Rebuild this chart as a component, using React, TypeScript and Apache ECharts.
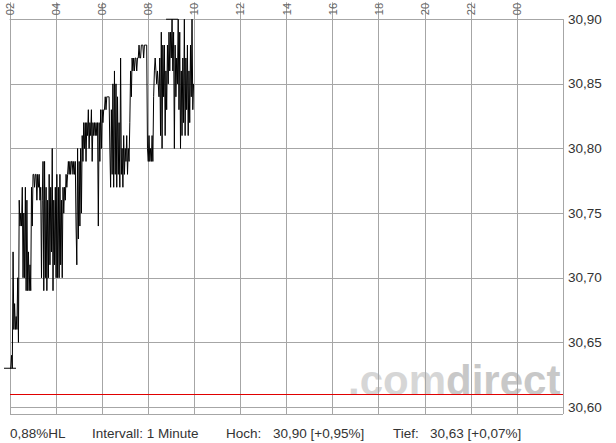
import React, { useEffect, useRef } from "react";
import * as echarts from "echarts";

// Prices, one value every 2 minutes from 02:00
const prices: number[] = [
  30.63, 30.63, 30.64, 30.63, 30.72, 30.66, 30.68, 30.66, 30.67, 30.66,
  30.70, 30.65, 30.76, 30.74, 30.75, 30.74, 30.77, 30.70, 30.75, 30.70,
  30.77, 30.69, 30.76, 30.69, 30.72, 30.69, 30.71, 30.69, 30.77, 30.74,
  30.78, 30.78, 30.77, 30.78, 30.78, 30.76, 30.78, 30.77, 30.78, 30.76,
  30.77, 30.70, 30.76, 30.79, 30.69, 30.79, 30.70, 30.77, 30.69, 30.76,
  30.70, 30.78, 30.71, 30.77, 30.72, 30.80, 30.69, 30.76, 30.71, 30.77,
  30.70, 30.78, 30.70, 30.77, 30.70, 30.78, 30.71, 30.76, 30.70, 30.77,
  30.75, 30.77, 30.76, 30.78, 30.77, 30.78, 30.79, 30.78, 30.79, 30.78,
  30.79, 30.79, 30.78, 30.79, 30.78, 30.79, 30.74, 30.71, 30.80, 30.73,
  30.79, 30.74, 30.80, 30.75, 30.81, 30.79, 30.82, 30.80, 30.82, 30.79,
  30.82, 30.81, 30.83, 30.80, 30.82, 30.81, 30.83, 30.79, 30.82, 30.81,
  30.82, 30.81, 30.82, 30.81, 30.82, 30.74, 30.82, 30.79, 30.83, 30.80,
  30.83, 30.82, 30.83, 30.83, 30.84, 30.83, 30.84, 30.84, 30.84, 30.84,
  30.80, 30.77, 30.83, 30.78, 30.85, 30.77, 30.86, 30.78, 30.85, 30.77,
  30.84, 30.78, 30.82, 30.77, 30.87, 30.78, 30.80, 30.77, 30.81, 30.78,
  30.80, 30.79, 30.81, 30.78, 30.80, 30.79, 30.82, 30.86, 30.84, 30.87,
  30.86, 30.87, 30.86, 30.87, 30.87, 30.86, 30.87, 30.87, 30.88, 30.87,
  30.87, 30.88, 30.88, 30.88, 30.87, 30.88, 30.88, 30.88, 30.88, 30.80,
  30.79, 30.81, 30.79, 30.80, 30.79, 30.81, 30.79, 30.84, 30.86, 30.87,
  30.86, 30.85, 30.86, 30.85, 30.84, 30.87, 30.81, 30.89, 30.80, 30.88,
  30.84, 30.88, 30.81, 30.86, 30.83, 30.88, 30.85, 30.89, 30.86, 30.89,
  30.87, 30.90, 30.86, 30.89, 30.80, 30.88, 30.84, 30.87, 30.85, 30.90,
  30.83, 30.89, 30.80, 30.86, 30.81, 30.87, 30.82, 30.90, 30.81, 30.87,
  30.83, 30.88, 30.81, 30.86, 30.82, 30.88, 30.84, 30.90, 30.83, 30.85,
];
const stepMinutes = 2;
const prevClose = 30.61;
const hourLabels = ["02", "04", "06", "08", "10", "12", "14", "16", "18", "20", "22", "00"];
const intervalText = "Intervall: 1 Minute";
const brandParts = [".com", "direct"];

const FONT = '"Liberation Sans", Arial, Helvetica, sans-serif';
const GRID = "#a6a6a6";

const fmt = (n: number) => n.toFixed(2).replace(".", ",");
const sign = (n: number) => (n >= 0 ? "+" : "-");

export default function App() {
  const ref = useRef<HTMLDivElement>(null);

  useEffect(() => {
    if (!ref.current) return;
    const chart = echarts.init(ref.current, undefined, { renderer: "svg" });

    const data = prices.map((p, i) => [i * stepMinutes, p]);
    const hi = Math.max(...prices);
    const lo = Math.min(...prices);
    const hiIdx = prices.indexOf(hi);
    const loIdx = prices.indexOf(lo);
    const hlPct = ((hi - lo) / lo) * 100;
    const hiPct = (hi / prevClose - 1) * 100;
    const loPct = (lo / prevClose - 1) * 100;

    const footerStyle = { fill: "#333", font: `13.5px ${FONT}`, verticalAlign: "middle" as const };

    chart.setOption({
      animation: false,
      grid: { left: 10, right: 53, top: 17, bottom: 29 },
      xAxis: {
        type: "value",
        position: "top",
        min: 0,
        max: 1440,
        interval: 120,
        axisLine: { show: true, lineStyle: { color: GRID, width: 1 } },
        axisTick: { show: true, length: 17, lineStyle: { color: GRID, width: 1 } },
        axisLabel: {
          rotate: -90,
          margin: 4,
          showMaxLabel: false,
          color: "#666",
          fontSize: 11,
          fontFamily: FONT,
          padding: [9, 0, 0, 0],
          formatter: (v: number) => hourLabels[Math.round(v / 120)] ?? "",
        },
        splitLine: { show: true, lineStyle: { color: GRID, width: 1 } },
      },
      yAxis: {
        type: "value",
        position: "right",
        min: 30.5946,
        max: 30.9,
        splitNumber: 6,
        axisLine: { show: false },
        axisTick: { show: false },
        axisLabel: {
          margin: 5,
          color: "#333",
          fontSize: 13.5,
          fontFamily: FONT,
          showMinLabel: false,
          formatter: (v: number) => fmt(v),
        },
        splitLine: { show: true, lineStyle: { color: GRID, width: 1 } },
      },
      series: [
        {
          type: "line",
          data,
          showSymbol: false,
          symbol: "none",
          silent: true,
          lineStyle: { color: "#000", width: 1 },
          z: 5,
          markLine: {
            silent: true,
            symbol: "none",
            label: { show: false },
            lineStyle: { color: "#e00000", width: 1, type: "solid" },
            data: [{ yAxis: prevClose }],
          },
          markPoint: {
            silent: true,
            symbol: "rect",
            symbolSize: [12, 1],
            label: { show: false },
            itemStyle: { color: "#000" },
            data: [
              { coord: [loIdx * stepMinutes, lo] },
              { coord: [hiIdx * stepMinutes, hi] },
            ],
          },
        },
      ],
      graphic: [
        {
          type: "text",
          x: 348,
          y: 380,
          z: -10,
          silent: true,
          style: {
            text: `{a|${brandParts[0]}}{b|${brandParts[1]}}`,
            verticalAlign: "middle",
            rich: {
              a: { fill: "#d6d6d6", font: `bold 42px ${FONT}` },
              b: { fill: "#c8c8c8", font: `bold 42px ${FONT}` },
            },
          },
        },
        { type: "text", x: 10, y: 433, style: { ...footerStyle, text: `${fmt(hlPct)}%HL` } },
        { type: "text", x: 92, y: 433, style: { ...footerStyle, text: intervalText } },
        { type: "text", x: 226, y: 433, style: { ...footerStyle, text: "Hoch:" } },
        {
          type: "text",
          x: 273,
          y: 433,
          style: { ...footerStyle, text: `${fmt(hi)} [${sign(hiPct)}${fmt(Math.abs(hiPct))}%]` },
        },
        { type: "text", x: 393, y: 433, style: { ...footerStyle, text: "Tief:" } },
        {
          type: "text",
          x: 430,
          y: 433,
          style: { ...footerStyle, text: `${fmt(lo)} [${sign(loPct)}${fmt(Math.abs(loPct))}%]` },
        },
      ],
    });

    return () => chart.dispose();
  }, []);

  return (
    <div
      ref={ref}
      style={{ position: "absolute", left: 0, top: 0, width: 616, height: 443, background: "#fff" }}
    />
  );
}
